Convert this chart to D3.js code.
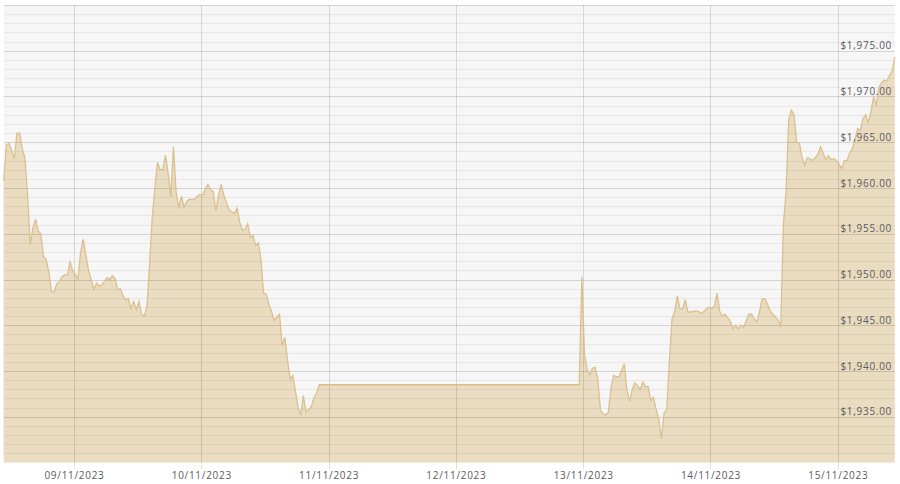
<!DOCTYPE html>
<html>
<head>
<meta charset="utf-8">
<script src="https://cdnjs.cloudflare.com/ajax/libs/d3/7.8.5/d3.min.js"></script>
<style>
  body { margin: 0; background: #fff; }
  text { font-family: "Open Sans", "DejaVu Sans", sans-serif; font-size: 10px; fill: #5a5a5a; letter-spacing: 0.7px; }
</style>
</head>
<body>
<svg></svg>
<script>
//Price data, one value every 30 minutes per trading session
var session1Start = new Date(2023, 10, 8, 10, 45);
var session1 = [1960.8, 1964.7, 1964.9, 1964.1, 1963.2, 1966.0, 1966.0, 1964.3, 1963.3, 1959.2,
  1953.8, 1955.6, 1956.6, 1955.3, 1955.0, 1952.5, 1952.2, 1950.8, 1948.7, 1948.6,
  1949.5, 1949.8, 1950.3, 1950.5, 1950.5, 1951.9, 1951.0, 1950.6, 1950.0, 1953.0,
  1954.4, 1952.6, 1951.0, 1950.0, 1948.9, 1949.6, 1949.3, 1949.4, 1949.8, 1950.2,
  1950.0, 1950.4, 1950.1, 1948.9, 1949.0, 1948.2, 1947.8, 1947.9, 1946.8, 1947.6,
  1946.7, 1947.6, 1946.2, 1946.0, 1947.0, 1951.6, 1956.8, 1960.0, 1962.8, 1962.0,
  1962.0, 1963.6, 1961.6, 1959.0, 1964.5, 1959.6, 1957.8, 1959.1, 1957.9, 1958.5,
  1958.8, 1958.7, 1958.8, 1959.1, 1959.3, 1959.2, 1959.9, 1960.4, 1959.8, 1959.6,
  1957.5, 1959.2, 1960.4, 1959.2, 1958.4, 1957.6, 1957.4, 1957.2, 1957.8, 1956.3,
  1955.4, 1955.5, 1956.1, 1954.6, 1954.8, 1953.7, 1954.0, 1952.2, 1948.5, 1948.4,
  1947.3, 1946.5, 1945.5, 1945.9, 1946.2, 1942.8, 1943.7, 1941.2, 1939.1, 1939.5,
  1937.8, 1936.0, 1935.2, 1937.3, 1935.5, 1935.8, 1936.1, 1937.1, 1937.6, 1938.5];

var session2Start = new Date(2023, 10, 12, 23, 15);
var session2 = [1938.5, 1950.3, 1941.8, 1940.2, 1939.6, 1940.3, 1940.4, 1939.2, 1935.7, 1935.3,
  1935.2, 1935.5, 1938.2, 1939.5, 1939.4, 1939.3, 1940.1, 1940.8, 1937.9, 1936.7,
  1938.0, 1938.7, 1938.4, 1938.0, 1938.8, 1938.3, 1938.3, 1936.8, 1937.1, 1935.8,
  1934.8, 1932.6, 1935.4, 1935.8, 1941.0, 1945.7, 1946.5, 1948.2, 1946.8, 1946.8,
  1947.8, 1946.4, 1946.5, 1946.5, 1946.6, 1946.5, 1946.3, 1946.5, 1946.8, 1947.0,
  1946.8, 1947.1, 1948.5, 1946.5, 1946.0, 1946.2, 1945.8, 1945.4, 1944.6, 1945.0,
  1944.6, 1945.0, 1944.8, 1945.5, 1946.2, 1946.2, 1945.7, 1945.4, 1946.5, 1947.9,
  1947.9, 1947.3, 1946.6, 1946.2, 1945.9, 1945.6, 1944.8, 1956.0, 1959.6, 1967.5,
  1968.5, 1968.0, 1965.0, 1964.9, 1963.4, 1962.5, 1963.3, 1963.2, 1963.0, 1963.3,
  1963.7, 1964.5, 1963.8, 1963.1, 1963.5, 1963.1, 1963.2, 1963.0, 1962.6, 1962.1,
  1963.0, 1963.0, 1963.8, 1964.3, 1965.3, 1966.5, 1966.3, 1967.6, 1968.0, 1967.2,
  1968.3, 1970.0, 1969.0, 1971.0, 1971.5, 1971.8, 1971.7, 1972.3, 1972.8, 1974.3];

//Axis ticks
var dayTicks = [new Date(2023, 10, 9), new Date(2023, 10, 10), new Date(2023, 10, 11),
  new Date(2023, 10, 12), new Date(2023, 10, 13), new Date(2023, 10, 14), new Date(2023, 10, 15)];
var priceTicks = [1935, 1940, 1945, 1950, 1955, 1960, 1965, 1970, 1975];
var minorTicks = d3.range(1931, 1981, 1);

//Set Dimensions of svg
var width = 900;
var height = 484;
var svg = d3.select('svg')
            .attr('width', width)
            .attr('height', height);

var half = 30 * 60 * 1000;
var data = [];
session1.forEach(function(v, i) { data.push({ date: new Date(+session1Start + i * half), value: v }); });
session2.forEach(function(v, i) { data.push({ date: new Date(+session2Start + i * half), value: v }); });

var x = d3.scaleTime()
          .domain([new Date(2023, 10, 8, 10, 45), new Date(2023, 10, 15, 10, 45)])
          .range([3.7, 894.8]);
var y = d3.scaleLinear()
          .domain([1930, 1980])
          .range([462.5, 5]);

//Plot background
svg.append('rect')
   .attr('x', x.range()[0])
   .attr('y', y(1980))
   .attr('width', x.range()[1] - x.range()[0])
   .attr('height', y(1930) - y(1980))
   .attr('fill', '#f6f6f7');

//Area
var area = d3.area()
             .x(d => x(d.date))
             .y0(y(1930))
             .y1(d => y(d.value));
var line = d3.line()
             .x(d => x(d.date))
             .y(d => y(d.value));

svg.append('path')
   .datum(data)
   .attr('d', area)
   .attr('fill', '#eadcc1');

//Grid lines on top of the fill
var grid = svg.append('g');
grid.selectAll('.minor')
    .data(minorTicks)
    .enter()
    .append('line')
    .attr('x1', x.range()[0])
    .attr('x2', x.range()[1])
    .attr('y1', d => Math.round(y(d)) + 0.5)
    .attr('y2', d => Math.round(y(d)) + 0.5)
    .attr('stroke', d => d % 5 === 0 ? 'rgba(0,0,0,0.14)' : 'rgba(0,0,0,0.06)');

grid.selectAll('.day')
    .data(dayTicks)
    .enter()
    .append('line')
    .attr('x1', d => Math.round(x(d)) + 0.5)
    .attr('x2', d => Math.round(x(d)) + 0.5)
    .attr('y1', y(1980))
    .attr('y2', 469)
    .attr('stroke', 'rgba(0,0,0,0.12)');

svg.append('path')
   .datum(data)
   .attr('d', line)
   .attr('fill', 'none')
   .attr('stroke', '#dbc08f')
   .attr('stroke-width', 1.3);

//Y labels sit above their grid line on the right
var yAxis = d3.axisRight(y)
              .tickValues(priceTicks)
              .tickFormat(d3.format('$,.2f'))
              .tickSize(0);
svg.append('g')
   .attr('transform', 'translate(892,0)')
   .call(yAxis)
   .call(g => g.select('.domain').remove())
   .selectAll('text')
   .attr('text-anchor', 'end')
   .attr('x', 0)
   .attr('dy', '-0.2em');

//X labels
var xAxis = d3.axisBottom(x)
              .tickValues(dayTicks)
              .tickFormat(d3.timeFormat('%d/%m/%Y'))
              .tickSize(0);
svg.append('g')
   .attr('transform', 'translate(0,470)')
   .call(xAxis)
   .call(g => g.select('.domain').remove())
   .selectAll('text')
   .attr('dy', '0.55em');

svg.selectAll('.tick text').attr('font-family', null).attr('font-size', null).attr('fill', null);
</script>
</body>
</html>
